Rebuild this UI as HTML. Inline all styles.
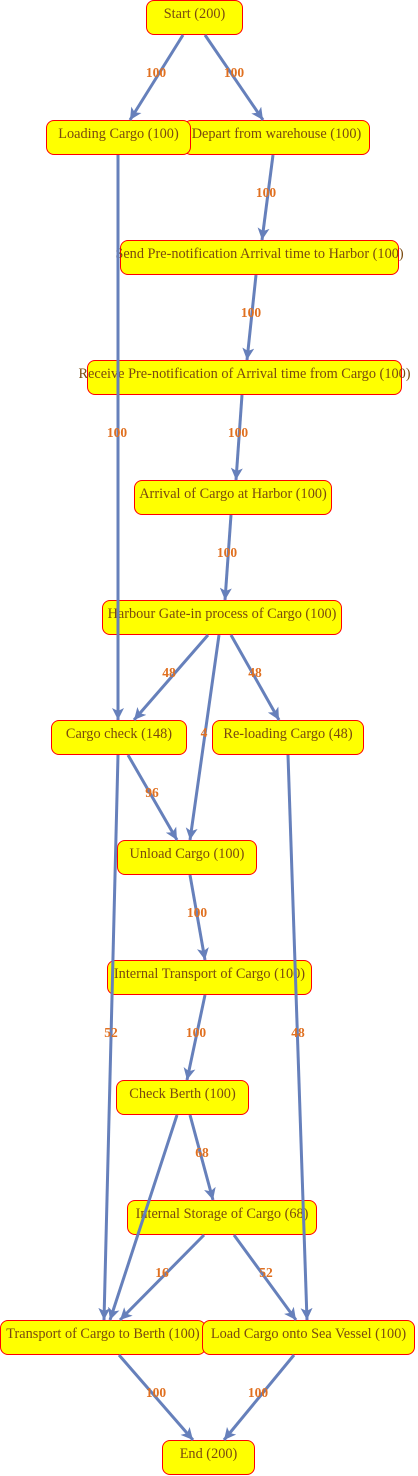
<!DOCTYPE html>
<html><head><meta charset="utf-8"><style>
html,body{margin:0;padding:0;background:#fff;}
body{width:418px;height:1476px;position:relative;overflow:hidden;}
.n{position:absolute;box-sizing:border-box;height:35px;background:#ffff00;border:1px solid #ff0000;border-radius:8px;font-family:"Liberation Serif",serif;font-size:14.3px;color:#7a4a10;line-height:27px;white-space:nowrap;display:flex;justify-content:center;}
.l{font-family:"Liberation Serif",serif;font-size:13.5px;font-weight:bold;fill:#e07020;text-anchor:middle;}
svg{position:absolute;left:0;top:0;}
</style></head><body>
<div class="n" style="left:146px;top:0;width:97px">Start (200)</div>
<div class="n" style="left:183px;top:120px;width:187px">Depart from warehouse (100)</div>
<div class="n" style="left:46px;top:120px;width:145px">Loading Cargo (100)</div>
<div class="n" style="left:120px;top:240px;width:279px">Send Pre-notification Arrival time to Harbor (100)</div>
<div class="n" style="left:87px;top:360px;width:315px">Receive Pre-notification of Arrival time from Cargo (100)</div>
<div class="n" style="left:134px;top:480px;width:198px">Arrival of Cargo at Harbor (100)</div>
<div class="n" style="left:102px;top:600px;width:240px">Harbour Gate-in process of Cargo (100)</div>
<div class="n" style="left:51px;top:720px;width:136px">Cargo check (148)</div>
<div class="n" style="left:212px;top:720px;width:152px">Re-loading Cargo (48)</div>
<div class="n" style="left:117px;top:840px;width:140px">Unload Cargo (100)</div>
<div class="n" style="left:107px;top:960px;width:205px">Internal Transport of Cargo (100)</div>
<div class="n" style="left:116px;top:1080px;width:133px">Check Berth (100)</div>
<div class="n" style="left:127px;top:1200px;width:190px">Internal Storage of Cargo (68)</div>
<div class="n" style="left:0px;top:1320px;width:206px">Transport of Cargo to Berth (100)</div>
<div class="n" style="left:202px;top:1320px;width:213px">Load Cargo onto Sea Vessel (100)</div>
<div class="n" style="left:162px;top:1440px;width:93px">End (200)</div>
<svg width="418" height="1476" viewBox="0 0 418 1476">
<defs><marker id="a" markerWidth="14" markerHeight="12" refX="12" refY="6" orient="auto" markerUnits="userSpaceOnUse"><path d="M0,0 L12,6 L0,12 L3,6 Z" fill="#6680bb"/></marker></defs>
<g stroke="#6680bb" stroke-width="3" fill="none" marker-end="url(#a)">
<line x1="183" y1="35" x2="130" y2="120"/>
<line x1="205" y1="35" x2="263" y2="120"/>
<line x1="273" y1="155" x2="262" y2="240"/>
<line x1="256" y1="275" x2="247" y2="360"/>
<line x1="118" y1="155" x2="118" y2="720"/>
<line x1="242" y1="395" x2="236" y2="480"/>
<line x1="231" y1="515" x2="225" y2="600"/>
<line x1="208" y1="635" x2="134" y2="720"/>
<line x1="219" y1="635" x2="190" y2="840"/>
<line x1="231" y1="635" x2="279" y2="720"/>
<line x1="128" y1="755" x2="177" y2="840"/>
<line x1="118" y1="755" x2="104" y2="1320"/>
<line x1="288" y1="755" x2="307" y2="1320"/>
<line x1="190" y1="875" x2="205" y2="960"/>
<line x1="205" y1="995" x2="187" y2="1080"/>
<line x1="190" y1="1115" x2="213" y2="1200"/>
<line x1="177" y1="1115" x2="110" y2="1320"/>
<line x1="204" y1="1235" x2="120" y2="1320"/>
<line x1="234" y1="1235" x2="296" y2="1320"/>
<line x1="119" y1="1355" x2="193" y2="1440"/>
<line x1="294" y1="1355" x2="224" y2="1440"/>
</g>
<g>
<text x="156" y="77" class="l">100</text>
<text x="234" y="77" class="l">100</text>
<text x="266" y="197" class="l">100</text>
<text x="251" y="317" class="l">100</text>
<text x="117" y="437" class="l">100</text>
<text x="238" y="437" class="l">100</text>
<text x="227" y="557" class="l">100</text>
<text x="169" y="677" class="l">48</text>
<text x="204" y="737" class="l">4</text>
<text x="255" y="677" class="l">48</text>
<text x="152" y="797" class="l">96</text>
<text x="197" y="917" class="l">100</text>
<text x="111" y="1037" class="l">52</text>
<text x="196" y="1037" class="l">100</text>
<text x="298" y="1037" class="l">48</text>
<text x="202" y="1157" class="l">68</text>
<text x="162" y="1277" class="l">16</text>
<text x="266" y="1277" class="l">52</text>
<text x="156" y="1397" class="l">100</text>
<text x="258" y="1397" class="l">100</text>
</g>
</svg>
</body></html>
